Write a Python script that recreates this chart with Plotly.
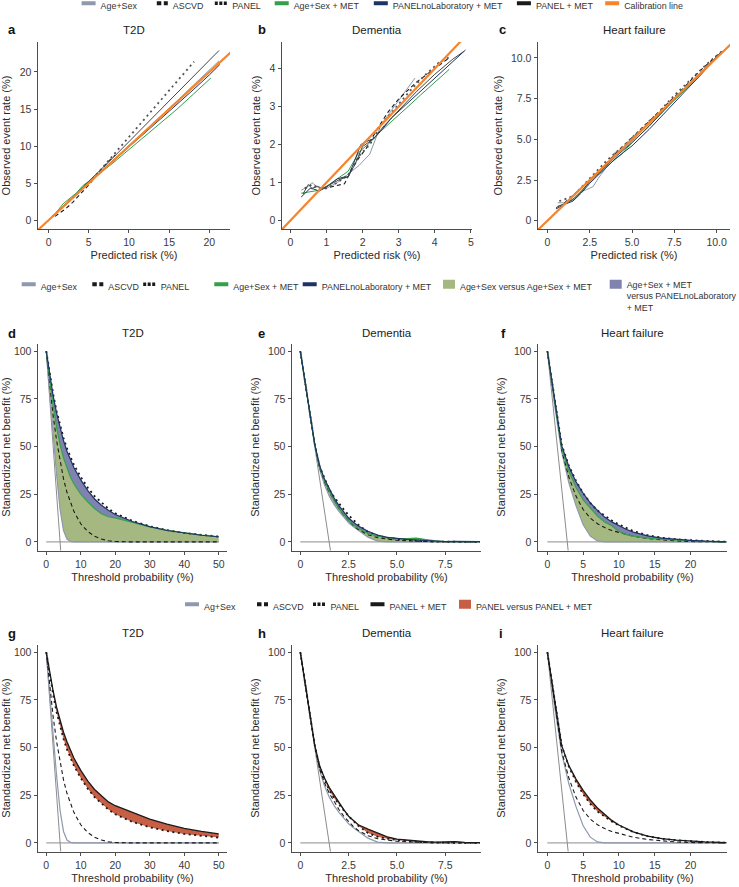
import plotly.graph_objects as go

W, H = 739, 887

# ====================== DATA ======================
# ---- Row 1: calibration (predicted risk % vs observed event rate %) ----
calib_x = [-5, 30]
calib_y = [-5, 30]

# a: T2D
a_agesex_x = [0.2, 1, 2, 3, 4, 5, 6, 8, 10, 12, 14, 16, 18, 20, 21.2]
a_agesex_y = [0.2, 1, 2.1, 3.1, 4.1, 5.1, 6.1, 8.1, 10.1, 12.1, 14.1, 16.1, 18.2, 20.3, 21.5]
a_ascvd_x = [0.8, 1.5, 2.2, 3, 3.8, 4.5, 5.2, 6, 6.8, 7.5, 8.3]
a_ascvd_y = [0.5, 1.0, 1.6, 2.4, 3.3, 4.1, 5.0, 6.1, 7.2, 8.0, 8.8]
a_panel_x = [0.5, 2, 4, 6, 8, 10, 12, 14, 16, 18.1]
a_panel_y = [0.5, 2, 4, 6.2, 8.7, 11.2, 13.7, 16.2, 18.8, 21.4]
a_agesexmet_x = [0.3, 1, 1.8, 2.5, 3.5, 4.3, 5, 6, 8, 10, 12, 14, 16, 18, 20.2]
a_agesexmet_y = [0.3, 1.1, 2.2, 2.8, 3.7, 4.7, 5.2, 6, 7.7, 9.5, 11.3, 13.1, 15, 17, 19.2]
a_nolabmet_x = [0.3, 1, 2, 3, 4, 5, 6, 8, 10, 12, 14, 16, 18, 20, 21.3]
a_nolabmet_y = [0.3, 1, 2, 3, 4, 5, 6, 7.9, 9.9, 11.8, 13.7, 15.7, 17.6, 19.6, 21.0]
a_panelmet_x = [0.3, 1, 2, 3, 4, 5, 6, 8, 10, 12, 14, 16, 18, 20, 21.2]
a_panelmet_y = [0.3, 1, 2.1, 3.1, 4.2, 5.2, 6.3, 8.4, 10.6, 12.8, 14.9, 17.1, 19.3, 21.6, 22.9]

# b: Dementia
b_agesex_x = [0.3, 0.5, 0.6, 0.8, 1.0, 1.3, 1.7, 1.9, 2.2, 2.5, 2.8, 3.1, 3.45]
b_agesex_y = [0.8, 0.9, 1.0, 0.85, 0.85, 1.0, 1.3, 1.45, 1.75, 2.5, 2.9, 3.3, 3.75]
b_ascvd_x = [1.1, 1.3, 1.5, 1.7, 1.9, 2.1, 2.4, 2.7, 3.0, 3.5, 4.0, 4.38]
b_ascvd_y = [0.88, 0.92, 0.97, 1.35, 1.65, 1.9, 2.4, 2.85, 3.2, 3.65, 4.0, 4.27]
b_panel_x = [0.4, 0.6, 0.8, 1.0, 1.3, 1.6, 1.9, 2.2, 2.5, 2.9, 3.3, 3.7, 4.1, 4.4]
b_panel_y = [0.85, 0.95, 0.85, 0.85, 1.0, 1.2, 1.7, 2.0, 2.5, 2.95, 3.4, 3.8, 4.15, 4.3]
b_agesexmet_x = [0.3, 0.5, 0.8, 1.0, 1.3, 1.6, 1.9, 2.2, 2.5, 2.8, 3.2, 3.6, 4.0, 4.4]
b_agesexmet_y = [0.72, 0.75, 0.8, 0.9, 1.1, 1.3, 1.8, 2.05, 2.35, 2.6, 2.95, 3.3, 3.65, 3.98]
b_nolabmet_x = [0.3, 0.45, 0.55, 0.65, 0.8, 1.0, 1.3, 1.5, 1.6, 1.75, 1.95, 2.15, 2.3, 2.5, 2.8, 3.2, 3.6, 4.0, 4.4, 4.85]
b_nolabmet_y = [0.62, 0.75, 0.85, 0.83, 0.78, 0.88, 1.1, 1.15, 1.15, 1.5, 2.0, 2.1, 2.15, 2.35, 2.7, 3.05, 3.4, 3.75, 4.1, 4.49]
b_panelmet_x = [0.35, 0.5, 0.6, 0.75, 0.9, 1.1, 1.4, 1.6, 1.8, 2.0, 2.3, 2.6, 3.0, 3.5, 4.0, 4.5, 4.8]
b_panelmet_y = [0.7, 0.95, 0.85, 0.9, 0.85, 0.95, 1.1, 1.15, 1.5, 1.95, 2.15, 2.5, 2.9, 3.4, 3.85, 4.25, 4.45]

# c: Heart failure
c_agesex_x = [0.6, 1.0, 1.6, 2.0, 2.3, 2.7, 3.0, 3.5, 4.0, 4.5, 5, 6, 7, 8, 9, 10.2]
c_agesex_y = [1.1, 1.1, 1.3, 1.8, 1.9, 2.1, 2.6, 3.3, 4.2, 4.4, 4.9, 5.9, 6.9, 7.9, 8.9, 10.2]
c_ascvd_x = [1, 2, 3, 4, 5, 6, 7, 8, 9, 10.3]
c_ascvd_y = [1.1, 2.0, 3.0, 4.1, 5.1, 6.1, 7.1, 8.1, 9.2, 10.4]
c_panel_x = [0.7, 1.5, 2.5, 3.5, 4.5, 5.5, 6.5, 7.5, 8.5, 9.5, 10.3]
c_panel_y = [1.2, 1.5, 2.6, 3.7, 4.6, 5.6, 6.6, 7.7, 8.7, 9.7, 10.4]
c_agesexmet_x = [0.6, 1.0, 1.6, 2.2, 2.6, 3.2, 3.8, 4.4, 5, 6, 7, 8, 9, 10.2]
c_agesexmet_y = [0.9, 1.0, 1.4, 2.0, 2.6, 3.0, 3.6, 4.1, 4.8, 5.8, 6.9, 7.9, 9.0, 10.3]
c_nolabmet_x = [0.5, 1.0, 1.5, 2.0, 2.5, 3.0, 3.5, 4.0, 4.5, 5, 6, 7, 8, 9, 10.2]
c_nolabmet_y = [0.72, 1.0, 1.2, 1.7, 2.3, 2.8, 3.3, 3.8, 4.2, 4.6, 5.6, 6.7, 7.8, 8.9, 10.3]
c_panelmet_x = [0.5, 1, 1.5, 2, 2.5, 3, 3.5, 4, 5, 6, 7, 8, 9, 10.2]
c_panelmet_y = [0.8, 1.05, 1.3, 1.8, 2.4, 2.9, 3.4, 3.9, 4.8, 5.8, 6.9, 8.0, 9.0, 10.3]

# ---- Rows 2 and 3: decision curves (threshold % vs standardized net benefit %) ----
t2d_x = [0, 1, 2, 3, 4, 5, 6, 7, 8, 10, 12, 14, 16, 18, 20, 25, 30, 35, 40, 45, 50]
t2d_agesex = [100, 77, 55, 35, 17, 6, 1.5, 0.3, 0, 0, 0, 0, 0, 0, 0, 0, 0, 0, 0, 0, 0]
t2d_ascvd = [100, 82, 66, 53, 42, 33, 26, 20.5, 16, 9.5, 5.5, 3, 1.5, 0.6, 0.2, 0, 0, 0, 0, 0, 0]
t2d_panel = [100, 88, 77.5, 68.5, 61, 54.5, 49, 44.5, 40.5, 34, 28.5, 24, 20.5, 17.5, 15, 11, 8.2, 6.2, 4.7, 3.6, 2.8]
t2d_agesexmet = [100, 85, 71, 60, 51, 44, 38.5, 34, 30.5, 25, 21, 17.5, 14.8, 13.2, 12.6, 10.2, 7.9, 6.1, 4.7, 3.6, 2.7]
t2d_nolabmet = [100, 87.5, 76.5, 67.5, 59.5, 53, 47.5, 43, 39, 32.5, 27, 22.5, 19.2, 16.6, 14.4, 10.7, 8, 6, 4.6, 3.5, 2.7]
t2d_panelmet = [100, 89, 79.5, 71, 64, 58, 53, 48.5, 44.5, 38, 32.5, 28, 24.5, 21.5, 19.5, 15.8, 12.5, 9.8, 7.6, 6, 4.7]
t2d_all_x = [0, 4.05, 5]
t2d_all_y = [100, 0, -25]
t2d_none_x = [0, 50]

dem_x = [0, 0.25, 0.5, 0.75, 1, 1.25, 1.5, 1.75, 2, 2.25, 2.5, 2.75, 3, 3.5, 4, 4.5, 5, 5.5, 6, 6.5, 7, 7.5, 8, 8.5, 9.3]
dem_agesex = [100, 83.5, 67, 50.5, 38, 30, 24, 19.5, 16, 13, 10, 8, 6, 2.5, 0.4, 0, 0, 0, 0, 0, 0, 0, 0, 0, 0]
dem_ascvd = [100, 83.5, 67, 51, 39, 31.5, 26, 21.5, 17.5, 14, 11, 8.5, 6.5, 3.8, 2.2, 1.4, 0.9, 0.6, 0.3, 0.2, 0.1, 0, 0, 0, 0]
dem_panel = [100, 83.5, 67, 51, 39.5, 33, 27.5, 23.5, 20, 17, 14, 11.5, 9, 5.2, 3.2, 2.2, 1.5, 1, 0.6, 0.3, 0.2, 0.1, 0.1, 0, 0]
dem_agesexmet = [100, 83.5, 67, 51, 39.5, 32, 26.5, 21.5, 17.5, 14, 11, 9, 7, 4.5, 3, 2.2, 1.8, 1.8, 2, 1.2, 0.5, 0.2, 0.2, 0.1, 0.1]
dem_nolabmet = [100, 83.5, 67, 51, 40, 33, 28, 23, 19, 15.5, 12.5, 10.3, 8.3, 5.6, 3.6, 2.4, 1.7, 1.3, 1, 0.7, 0.4, 0.2, 0.3, 0.2, 0.1]
dem_panelmet = [100, 83.5, 67, 51, 40.5, 34, 29, 25, 21, 17.5, 14, 11.5, 9.5, 7.2, 5.2, 3.2, 2, 1.5, 1, 0.6, 0.4, 0.5, 0.7, 0.3, 0.1]
dem_all_x = [0, 1.5, 2]
dem_all_y = [100, 0, -34]
dem_none_x = [0, 9.3]

hf_x = [0, 1, 2, 3, 4, 5, 6, 7, 8, 9, 10, 11, 12, 14, 16, 18, 20, 22, 25]
hf_agesex = [100, 72, 47, 31, 19, 9, 3, 0.5, 0, 0, 0, 0, 0, 0, 0, 0, 0, 0, 0]
hf_ascvd = [100, 74, 48, 34, 24, 17, 12.5, 9.5, 7.5, 6, 5, 4, 3, 1.8, 1, 0.5, 0.2, 0.1, 0]
hf_panel = [100, 75, 51, 40, 32, 25.5, 20.5, 16.5, 13.6, 11.2, 9.1, 7.3, 5.7, 3.5, 2.2, 1.4, 0.9, 0.5, 0.1]
hf_agesexmet = [100, 74, 49, 37, 28.5, 22, 17.5, 13.5, 10.5, 8.5, 5.5, 3.8, 3, 2, 1.4, 1, 0.6, 0.3, 0]
hf_nolabmet = [100, 75, 50.5, 39.5, 31.5, 25.5, 20.5, 16.5, 13, 10.5, 8.5, 6.6, 5.1, 3.2, 2, 1.3, 0.8, 0.4, 0]
hf_panelmet = [100, 75, 51, 40.5, 33.5, 27.5, 22.5, 18.3, 14.8, 11.8, 9.4, 7.4, 5.8, 3.6, 2.3, 1.5, 0.9, 0.5, 0.1]
hf_all_x = [0, 2.8, 3.5]
hf_all_y = [100, 0, -26]
hf_none_x = [0, 25]

# tick labels
cal_a_ticks = [0, 5, 10, 15, 20]
cal_b_xticks = [0, 1, 2, 3, 4, 5]
cal_b_yticks = [0, 1, 2, 3, 4]
cal_c_ticks = [0, 2.5, 5, 7.5, 10]
cal_c_ticktext = ["0", "2.5", "5.0", "7.5", "10.0"]
nb_yticks = [0, 25, 50, 75, 100]
t2d_xticks = [0, 10, 20, 30, 40, 50]
dem_xticks = [0, 2.5, 5, 7.5]
dem_xticktext = ["0", "2.5", "5.0", "7.5"]
hf_xticks = [0, 5, 10, 15, 20]

# ====================== STYLE ======================
C_AGESEX = "#8e99ad"
C_GREEN = "#33a04b"
C_NAVY = "#1e3463"
C_BLACK = "#1a1a1a"
C_ORANGE = "#f5842c"
C_REF = "#8c8c8c"
F_OLIVE = "rgba(150,172,108,0.85)"
F_PURPLE = "rgba(110,114,164,0.88)"
F_RED = "rgba(196,86,58,0.95)"
DASH_ASCVD = "4px,3px"
DASH_PANEL = "2px,3.5px"

FONT = "Liberation Sans, Arial, sans-serif"

fig = go.Figure()


def ax(k, kind):
    if kind == "x":
        return "x" if k == 1 else f"x{k}"
    return "y" if k == 1 else f"y{k}"


def line(k, x, y, color, width=1.0, dash="solid"):
    fig.add_trace(go.Scatter(x=x, y=y, mode="lines", xaxis=ax(k, "x"), yaxis=ax(k, "y"),
                             line=dict(color=color, width=width, dash=dash),
                             showlegend=False, hoverinfo="skip"))


def band(k, x, lower, upper, fillcolor):
    fig.add_trace(go.Scatter(x=x, y=lower, mode="lines", xaxis=ax(k, "x"), yaxis=ax(k, "y"),
                             line=dict(width=0, color=fillcolor), showlegend=False, hoverinfo="skip"))
    fig.add_trace(go.Scatter(x=x, y=upper, mode="lines", xaxis=ax(k, "x"), yaxis=ax(k, "y"),
                             line=dict(width=0, color=fillcolor), fill="tonexty", fillcolor=fillcolor,
                             showlegend=False, hoverinfo="skip"))


# ---- Row 1 ----
cal_sets = [
    (1, a_agesex_x, a_agesex_y, a_ascvd_x, a_ascvd_y, a_panel_x, a_panel_y, a_agesexmet_x, a_agesexmet_y,
     a_nolabmet_x, a_nolabmet_y, a_panelmet_x, a_panelmet_y),
    (2, b_agesex_x, b_agesex_y, b_ascvd_x, b_ascvd_y, b_panel_x, b_panel_y, b_agesexmet_x, b_agesexmet_y,
     b_nolabmet_x, b_nolabmet_y, b_panelmet_x, b_panelmet_y),
    (3, c_agesex_x, c_agesex_y, c_ascvd_x, c_ascvd_y, c_panel_x, c_panel_y, c_agesexmet_x, c_agesexmet_y,
     c_nolabmet_x, c_nolabmet_y, c_panelmet_x, c_panelmet_y),
]
for (k, asx, asy, acx, acy, px_, py_, gx, gy, nx, ny, kx, ky) in cal_sets:
    line(k, asx, asy, C_AGESEX, 1.0)
    line(k, acx, acy, C_BLACK, 1.1, DASH_ASCVD)
    line(k, px_, py_, "#555555", 1.8, DASH_PANEL)
    line(k, gx, gy, C_GREEN, 1.0)
    line(k, nx, ny, C_NAVY, 1.0)
    line(k, kx, ky, "#444444", 1.0)
    line(k, calib_x, calib_y, C_ORANGE, 2.2)

# ---- Row 2 ----
dca2 = [
    (4, t2d_x, t2d_agesex, t2d_ascvd, t2d_panel, t2d_agesexmet, t2d_nolabmet, t2d_all_x, t2d_all_y, t2d_none_x),
    (5, dem_x, dem_agesex, dem_ascvd, dem_panel, dem_agesexmet, dem_nolabmet, dem_all_x, dem_all_y, dem_none_x),
    (6, hf_x, hf_agesex, hf_ascvd, hf_panel, hf_agesexmet, hf_nolabmet, hf_all_x, hf_all_y, hf_none_x),
]
for (k, x, ag, asc, pan, agm, nlm, allx, ally, nonex) in dca2:
    band(k, x, ag, agm, F_OLIVE)
    band(k, x, agm, nlm, F_PURPLE)
    line(k, nonex, [0] * len(nonex), C_REF, 1.0)
    line(k, allx, ally, C_REF, 1.0)
    line(k, x, ag, C_AGESEX, 1.2)
    line(k, x, asc, C_BLACK, 1.1, DASH_ASCVD)
    line(k, x, pan, C_BLACK, 1.8, DASH_PANEL)
    line(k, x, agm, C_GREEN, 1.2)
    line(k, x, nlm, C_NAVY, 1.2)

# ---- Row 3 ----
dca3 = [
    (7, t2d_x, t2d_agesex, t2d_ascvd, t2d_panel, t2d_panelmet, t2d_all_x, t2d_all_y, t2d_none_x),
    (8, dem_x, dem_agesex, dem_ascvd, dem_panel, dem_panelmet, dem_all_x, dem_all_y, dem_none_x),
    (9, hf_x, hf_agesex, hf_ascvd, hf_panel, hf_panelmet, hf_all_x, hf_all_y, hf_none_x),
]
for (k, x, ag, asc, pan, pm, allx, ally, nonex) in dca3:
    band(k, x, pan, pm, F_RED)
    line(k, nonex, [0] * len(nonex), C_REF, 1.0)
    line(k, allx, ally, C_REF, 1.0)
    line(k, x, ag, C_AGESEX, 1.2)
    line(k, x, asc, C_BLACK, 1.1, DASH_ASCVD)
    line(k, x, pan, C_BLACK, 1.8, DASH_PANEL)
    line(k, x, pm, C_BLACK, 1.3)

# ====================== AXES ======================
def dom_x(l, r):
    return [l / W, r / W]


def dom_y(t, b):
    return [1 - b / H, 1 - t / H]


AX_COMMON = dict(showline=True, linecolor="#4d4d4d", linewidth=0.9, ticks="outside", ticklen=3.5,
                 tickwidth=0.9, tickcolor="#4d4d4d", showgrid=False, zeroline=False,
                 tickfont=dict(family=FONT, size=10.5, color="#3a3a3a"), automargin=False,
                 title_font=dict(family=FONT, size=11, color="#2a2a2a"))

R1, R2, R3 = (42, 229), (343.5, 550.5), (644.5, 851.5)
C1 = [(38, 230), (282, 472), (538, 730)]
C2 = [(38, 227), (292, 481), (538, 727)]
NB_RANGE = [-4.5, 104]

axes = [
    (1, C1[0], R1, [-1.32, 22.57], [-1.2, 24.05], cal_a_ticks, None, cal_a_ticks, None,
     "Predicted risk (%)", "Observed event rate (%)"),
    (2, C1[1], R1, [-0.23, 5.03], [-0.22, 4.7], cal_b_xticks, None, cal_b_yticks, None,
     "Predicted risk (%)", "Observed event rate (%)"),
    (3, C1[2], R1, [-0.56, 10.79], [-0.51, 10.98], cal_c_ticks, cal_c_ticktext, cal_c_ticks, cal_c_ticktext,
     "Predicted risk (%)", "Observed event rate (%)"),
    (4, C2[0], R2, [-2.4, 52.4], NB_RANGE, t2d_xticks, None, nb_yticks, None,
     "Threshold probability (%)", "Standardized net benefit (%)"),
    (5, C2[1], R2, [-0.43, 9.35], NB_RANGE, dem_xticks, dem_xticktext, nb_yticks, None,
     "Threshold probability (%)", "Standardized net benefit (%)"),
    (6, C2[2], R2, [-1.31, 25.1], NB_RANGE, hf_xticks, None, nb_yticks, None,
     "Threshold probability (%)", "Standardized net benefit (%)"),
    (7, C2[0], R3, [-2.4, 52.4], NB_RANGE, t2d_xticks, None, nb_yticks, None,
     "Threshold probability (%)", "Standardized net benefit (%)"),
    (8, C2[1], R3, [-0.43, 9.35], NB_RANGE, dem_xticks, dem_xticktext, nb_yticks, None,
     "Threshold probability (%)", "Standardized net benefit (%)"),
    (9, C2[2], R3, [-1.31, 25.1], NB_RANGE, hf_xticks, None, nb_yticks, None,
     "Threshold probability (%)", "Standardized net benefit (%)"),
]

layout_axes = {}
for (k, xd, yd, xr, yr, xt, xtt, yt, ytt, xtitle, ytitle) in axes:
    xname = "xaxis" if k == 1 else f"xaxis{k}"
    yname = "yaxis" if k == 1 else f"yaxis{k}"
    xa = dict(AX_COMMON, domain=dom_x(*xd), range=xr, anchor=ax(k, "y"), tickvals=xt,
              title=dict(text=xtitle, standoff=4))
    if xtt:
        xa["ticktext"] = xtt
    ya = dict(AX_COMMON, domain=dom_y(*yd), range=yr, anchor=ax(k, "x"), tickvals=yt,
              title=dict(text=ytitle, standoff=6))
    if ytt:
        ya["ticktext"] = ytt
    layout_axes[xname] = xa
    layout_axes[yname] = ya

# ====================== LEGENDS (one legend box per entry) ======================
# compact legend keys via dash patterns on the legend sample line (sample spans 5..35 px)
KEY_SOLID = ("0px,16px,14px,60px", 4)
KEY_ASCVD = ("0px,19px,4.5px,2.5px,4.5px,60px", 4)
KEY_PANEL = ("0px,17.5px,3px,1.5px,3px,1.5px,3px,60px", 3.5)
KEY_FILL = ("0px,18px,12px,60px", 9)

LEG_FONT = dict(family=FONT, size=8.9, color="#333333")
legend_items = [
    # name, text-start px, text-centre px, key, colour
    ("Age+Sex", 100.6, 6, KEY_SOLID, C_AGESEX),
    ("ASCVD", 172.8, 6, KEY_ASCVD, C_BLACK),
    ("PANEL", 232.3, 6, KEY_PANEL, C_BLACK),
    ("Age+Sex + MET", 293.7, 6, KEY_SOLID, C_GREEN),
    ("PANELnoLaboratory + MET", 392.8, 6, KEY_SOLID, C_NAVY),
    ("PANEL + MET", 535.9, 6, KEY_SOLID, C_BLACK),
    ("Calibration line", 624.2, 6, KEY_SOLID, C_ORANGE),
    ("Age+Sex", 40.7, 287, KEY_SOLID, C_AGESEX),
    ("ASCVD", 108.3, 287, KEY_ASCVD, C_BLACK),
    ("PANEL", 160.7, 287, KEY_PANEL, C_BLACK),
    ("Age+Sex + MET", 233.3, 287, KEY_SOLID, C_GREEN),
    ("PANELnoLaboratory + MET", 321.7, 287, KEY_SOLID, C_NAVY),
    ("Age+Sex versus Age+Sex + MET", 460, 287, KEY_FILL, F_OLIVE),
    ("Age+Sex + MET<br>versus PANELnoLaboratory<br>+ MET", 626.7, 287, KEY_FILL, F_PURPLE),
    ("Ag+Sex", 204, 607, KEY_SOLID, C_AGESEX),
    ("ASCVD", 273, 607, KEY_ASCVD, C_BLACK),
    ("PANEL", 330.5, 607, KEY_PANEL, C_BLACK),
    ("PANEL + MET", 389.5, 607, KEY_SOLID, C_BLACK),
    ("PANEL versus PANEL + MET", 476, 607, KEY_FILL, F_RED),
]

legend_layouts = {}
for i, (name, tx, ty, key, color) in enumerate(legend_items):
    lid = "legend" if i == 0 else f"legend{i + 1}"
    dash, width = key
    fig.add_trace(go.Scatter(x=[None], y=[None], mode="lines", name=name, legend=lid,
                             line=dict(color=color, width=width, dash=dash), hoverinfo="skip"))
    legend_layouts[lid] = dict(x=(tx - 40) / W, y=1 - (ty - 15) / H, xanchor="left", yanchor="top",
                               orientation="h", bgcolor="rgba(0,0,0,0)", borderwidth=0,
                               font=LEG_FONT, itemwidth=30, valign="top")

# ====================== ANNOTATIONS ======================
annotations = []
letters = [("a", 6, 29), ("b", 256, 29), ("c", 497, 29),
           ("d", 6, 333), ("e", 256, 333), ("f", 499, 333),
           ("g", 6, 633), ("h", 256, 633), ("i", 497, 633)]
for t, x, y in letters:
    annotations.append(dict(text=f"<b>{t}</b>", x=x / W, y=1 - y / H, xref="paper", yref="paper",
                            xanchor="left", yanchor="middle", showarrow=False,
                            font=dict(family=FONT, size=13, color="#111")))
titles = [("T2D", 134, 30), ("Dementia", 377, 30), ("Heart failure", 634, 30),
          ("T2D", 132.5, 333), ("Dementia", 386.5, 333), ("Heart failure", 632.5, 333),
          ("T2D", 132.5, 633), ("Dementia", 386.5, 633), ("Heart failure", 632.5, 633)]
for t, x, y in titles:
    annotations.append(dict(text=t, x=x / W, y=1 - y / H, xref="paper", yref="paper",
                            xanchor="center", yanchor="middle", showarrow=False,
                            font=dict(family=FONT, size=11.5, color="#222")))

fig.update_layout(width=W, height=H, margin=dict(l=0, r=0, t=0, b=0, autoexpand=False),
                  paper_bgcolor="white", plot_bgcolor="white",
                  annotations=annotations, showlegend=True, **layout_axes, **legend_layouts)

fig.write_html("out.html", config={"displayModeBar": False},
               post_script="document.body.style.margin='0px';")
